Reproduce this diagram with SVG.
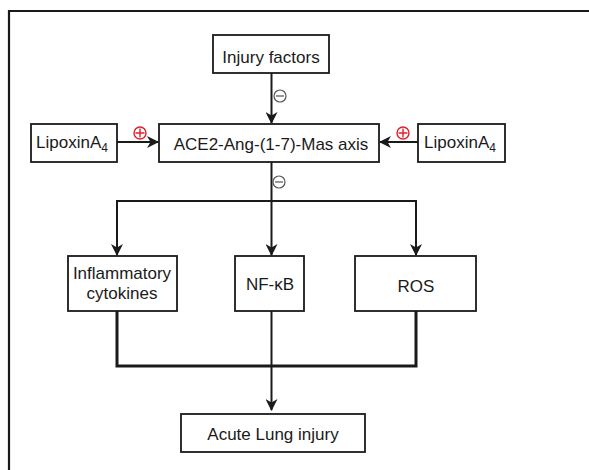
<svg xmlns="http://www.w3.org/2000/svg" width="589" height="470" viewBox="0 0 589 470">
<style>
.box{fill:#fff;stroke:#1a1a1a;stroke-width:1.8}
.t{font-family:"Liberation Sans",Arial,sans-serif;font-size:17px;fill:#1a1a1a;text-anchor:middle}
.ln{fill:none;stroke:#1a1a1a;stroke-width:2}
.thick{fill:none;stroke:#1a1a1a;stroke-width:3}
.minus{fill:#fff;stroke:#555;stroke-width:1.2}
.plus{fill:#fff;stroke:#e0202a;stroke-width:1.4}
</style>
<defs>
<marker id="ah" markerWidth="12" markerHeight="12" refX="11" refY="6" orient="auto" markerUnits="userSpaceOnUse">
<path d="M0,0 L12,6 L0,12 L3.5,6 z" fill="#1a1a1a"/>
</marker>
</defs>
<rect width="589" height="470" fill="#fff"/>
<path d="M9,470 V11 H589" fill="none" stroke="#1a1a1a" stroke-width="2.2"/>
<g id="connectors">
<line class="ln" x1="271.5" y1="73" x2="271.5" y2="123" marker-end="url(#ah)"/>
<line class="ln" x1="117" y1="142" x2="158" y2="142" marker-end="url(#ah)"/>
<line class="ln" x1="418" y1="142" x2="380" y2="142" marker-end="url(#ah)"/>
<line class="ln" x1="271.5" y1="162" x2="271.5" y2="255" marker-end="url(#ah)"/>
<path class="ln" d="M117,201 H416"/>
<line class="ln" x1="117" y1="200" x2="117" y2="255" marker-end="url(#ah)"/>
<line class="ln" x1="416" y1="200" x2="416" y2="255" marker-end="url(#ah)"/>
<path class="thick" d="M117,311 V366 H416 V311"/>
<line class="ln" x1="271.5" y1="311" x2="271.5" y2="410" marker-end="url(#ah)"/>
<g id="signs">
<circle class="minus" cx="280" cy="96" r="6"/><line x1="276" y1="96" x2="284" y2="96" stroke="#555" stroke-width="1.2"/>
<circle class="minus" cx="279" cy="182" r="6"/><line x1="275" y1="182" x2="283" y2="182" stroke="#555" stroke-width="1.2"/>
<circle class="plus" cx="140" cy="133" r="6"/><path d="M135.5,133 H144.5 M140,128.5 V137.5" stroke="#e0202a" stroke-width="1.4"/>
<circle class="plus" cx="403" cy="133" r="6"/><path d="M398.5,133 H407.5 M403,128.5 V137.5" stroke="#e0202a" stroke-width="1.4"/>
</g>
</g>
<g id="injury"><rect class="box" x="213" y="35" width="116" height="38"/><text class="t" x="271" y="63">Injury factors</text></g>
<g id="ace2"><rect class="box" x="159" y="124" width="220" height="38"/><text class="t" x="271" y="150">ACE2-Ang-(1-7)-Mas axis</text></g>
<g id="lipoxinL"><rect class="box" x="31" y="124" width="86" height="38"/><text class="t" x="72" y="148">LipoxinA<tspan font-size="12" dy="4">4</tspan></text></g>
<g id="lipoxinR"><rect class="box" x="418" y="124" width="87" height="38"/><text class="t" x="460" y="148">LipoxinA<tspan font-size="12" dy="4">4</tspan></text></g>
<g id="inflam"><rect class="box" x="68" y="256" width="109" height="55"/><text class="t" x="122" y="279">Inflammatory</text><text class="t" x="122" y="299">cytokines</text></g>
<g id="nfkb"><rect class="box" x="235" y="256" width="69" height="55"/><text class="t" x="270" y="290">NF-κB</text></g>
<g id="ros"><rect class="box" x="355" y="256" width="121" height="55"/><text class="t" x="416" y="292">ROS</text></g>
<g id="ali"><rect class="box" x="181" y="414" width="184" height="38"/><text class="t" x="273" y="440">Acute Lung injury</text></g>
</svg>
